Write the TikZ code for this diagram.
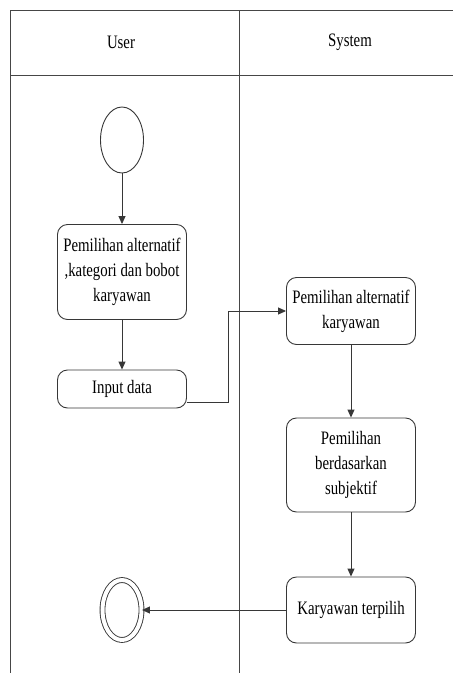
\documentclass[tikz,border=0pt]{standalone}
\usepackage{fontspec}
\setmainfont{Liberation Serif}[FakeStretch=0.78]
\usetikzlibrary{shapes.geometric,arrows.meta}
\definecolor{lanegray}{RGB}{70, 70, 70}
\definecolor{boxgray}{RGB}{55, 55, 55}

\begin{document}
\begin{tikzpicture}[x=1pt, y=-1pt,
        lane/.style={draw=lanegray, line width=0.9pt},
        label/.style={font=\fontsize{19}{25}\selectfont},
        activity/.style={draw=boxgray, line width=0.9pt, rounded corners=10pt, minimum width=129pt,
                         inner sep=0pt, align=center, font=\fontsize{19}{25}\selectfont},
        flow/.style={draw=boxgray, line width=0.9pt, -{Triangle[length=8pt, width=7pt]}}]
            \useasboundingbox (0,0) rectangle (453,673);
            % swimlanes
            \draw[lane] (453, 10) -- ( 10, 10) -- ( 10,673);
            \draw[lane] ( 10, 75) -- (453, 75);
            \draw[lane] (239, 10) -- (239,673);
            \node[label] (user)   at (121, 42) {User};
            \node[label] (system) at (350, 42) {System};
            % start and end
            \node[draw=boxgray, line width=0.9pt, ellipse, minimum width=43pt, minimum height=66pt, inner sep=0pt]
                 (start)  at (122,140) {};
            \node[draw=boxgray, line width=0.9pt, double=white, double distance=4pt, ellipse,
                  minimum width=39pt, minimum height=60pt, inner sep=0pt]
                 (finish) at (122,610) {};
            % activities
            \node[activity, minimum height=95pt] (choose) at (122,272) {Pemilihan alternatif\\,kategori dan bobot\\karyawan};
            \node[activity, minimum height=38pt] (input)  at (122,389) {Input data};
            \node[activity, minimum height=67pt] (alt)    at (351,311) {Pemilihan alternatif\\karyawan};
            \node[activity, minimum height=94pt] (subj)   at (351,465) {Pemilihan\\berdasarkan\\subjektif};
            \node[activity, minimum height=66pt] (picked) at (351,610) {Karyawan terpilih};
            % flows
            \draw[flow] (start)  -- (choose);
            \draw[flow] (choose) -- (input);
            \draw[flow] ([yshift=-13pt]input.east) -- ++(41,0) |- (alt.west);
            \draw[flow] (alt)    -- (subj);
            \draw[flow] (subj)   -- (picked);
            \draw[flow] (picked) -- (finish);
        \end{tikzpicture}
\end{document}
